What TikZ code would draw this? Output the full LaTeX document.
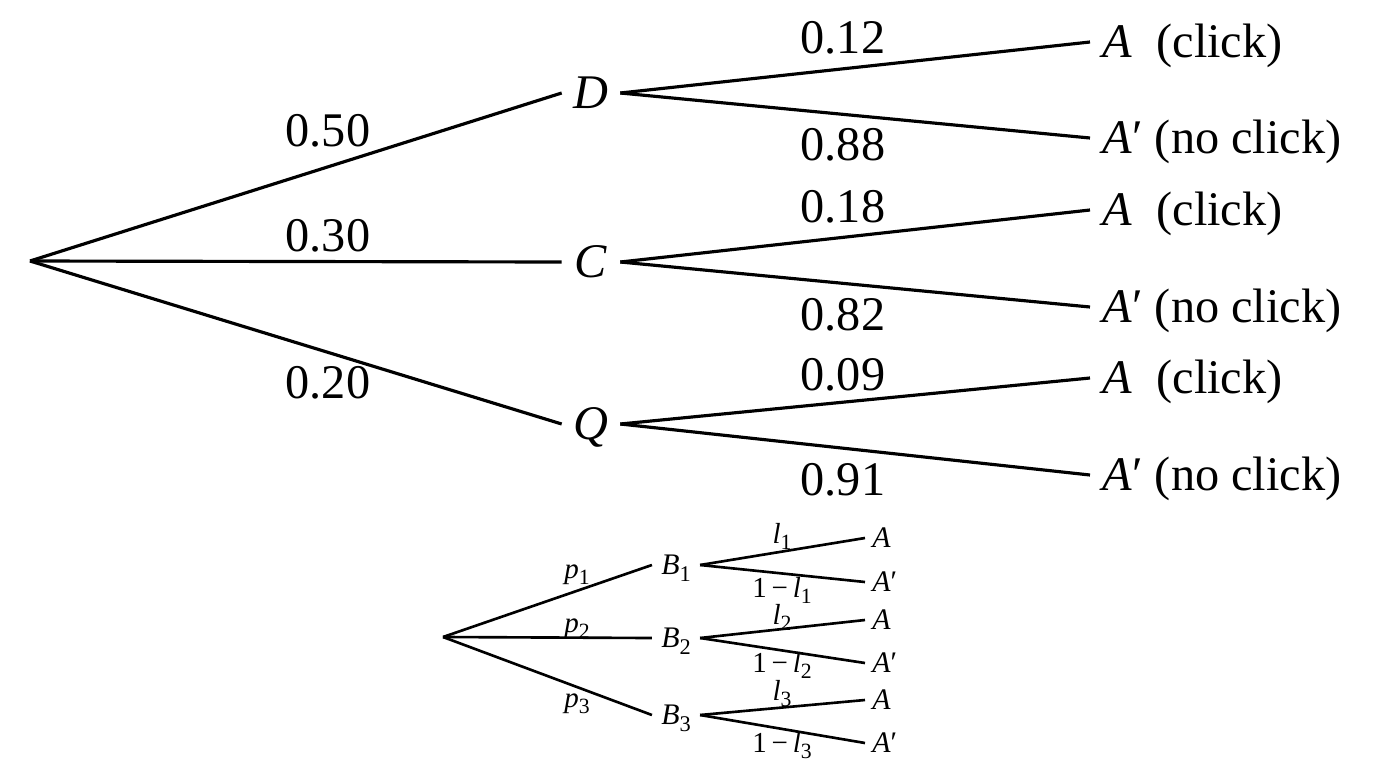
\documentclass[tikz,border=0pt]{standalone}
\usepackage{fontspec}
\setmainfont{Liberation Serif}
\usetikzlibrary{positioning}

\newcommand{\sub}[1]{\raisebox{-0.22em}{\scalebox{0.75}{#1}}}

\begin{document}
\begin{tikzpicture}[x=0.02cm, y=-0.02cm,
  branch/.style={line width=1.8pt},
  twig/.style={line width=1.5pt},
  event/.style={inner sep=0pt, minimum width=33pt, text height=18.2pt, text depth=0pt, font=\fontsize{27.5pt}{32pt}\selectfont},
  outcome/.style={anchor=west, inner xsep=7pt, inner ysep=0pt, text height=18.2pt, text depth=0pt, font=\fontsize{27.5pt}{32pt}\selectfont},
  prob/.style={inner sep=0pt, font=\fontsize{27.5pt}{32pt}\selectfont},
  sevent/.style={inner sep=0pt, minimum width=27pt, text height=10.9pt, text depth=0pt, font=\fontsize{17pt}{20pt}\selectfont},
  soutcome/.style={anchor=west, inner xsep=4pt, inner ysep=0pt, text height=10.9pt, text depth=0pt, font=\fontsize{17pt}{20pt}\selectfont},
  sprob/.style={anchor=base, inner sep=0pt, font=\fontsize{16.5pt}{19pt}\selectfont}
]
\useasboundingbox (0,0) rectangle (1376,768);

% Main tree
\coordinate (root) at (30,261);
\node[event] (dsp) at (591,93) {\textit{D}};
\node[event] (csp) at (591,262) {\textit{C}};
\node[event] (qsp) at (591,424) {\textit{Q}};

\node[outcome] (dclick) at (1090,42) {\textit{A}\hspace{0.5em}(click)};
\node[outcome] (dno) at (1090,138) {\textit{A}′ (no click)};
\node[outcome] (cclick) at (1090,210) {\textit{A}\hspace{0.5em}(click)};
\node[outcome] (cno) at (1090,307) {\textit{A}′ (no click)};
\node[outcome] (qclick) at (1090,378) {\textit{A}\hspace{0.5em}(click)};
\node[outcome] (qno) at (1090,475) {\textit{A}′ (no click)};

% Probabilities
\node[prob] (pd) at (328,131) {0.50};
\node[prob] (pc) at (328,236) {0.30};
\node[prob] (pq) at (328,383) {0.20};
\node[prob] (dyes) at (843,38) {0.12};
\node[prob] (dnot) at (843,145) {0.88};
\node[prob] (cyes) at (843,207) {0.18};
\node[prob] (cnot) at (843,315) {0.82};
\node[prob] (qyes) at (843,375) {0.09};
\node[prob] (qnot) at (843,480) {0.91};

% Branches
\draw[branch] (root) -- (dsp.west);
\draw[branch] (root) -- (csp.west);
\draw[branch] (root) -- (qsp.west);
\draw[branch] (dsp.east) -- (dclick.west);
\draw[branch] (dsp.east) -- (dno.west);
\draw[branch] (csp.east) -- (cclick.west);
\draw[branch] (csp.east) -- (cno.west);
\draw[branch] (qsp.east) -- (qclick.west);
\draw[branch] (qsp.east) -- (qno.west);

% General tree
\coordinate (sroot) at (443,637);
\node[sevent] (b1) at (676,565) {\textit{B}\sub{1}};
\node[sevent] (b2) at (676,638) {\textit{B}\sub{2}};
\node[sevent] (b3) at (676,715) {\textit{B}\sub{3}};

\node[soutcome] (a1) at (865,538) {\textit{A}};
\node[soutcome] (n1) at (865,582) {\textit{A}′};
\node[soutcome] (a2) at (865,620) {\textit{A}};
\node[soutcome] (n2) at (865,663) {\textit{A}′};
\node[soutcome] (a3) at (865,700) {\textit{A}};
\node[soutcome] (n3) at (865,743) {\textit{A}′};

\node[sprob] (p1) at (577,578) {\textit{p}\sub{1}};
\node[sprob] (p2) at (577,632) {\textit{p}\sub{2}};
\node[sprob] (p3) at (577,707) {\textit{p}\sub{3}};
\node[sprob] (l1) at (782,543) {\textit{l}\sub{1}};
\node[sprob] (m1) at (782,597) {1\,−\,\textit{l}\sub{1}};
\node[sprob] (l2) at (782,624) {\textit{l}\sub{2}};
\node[sprob] (m2) at (782,672) {1\,−\,\textit{l}\sub{2}};
\node[sprob] (l3) at (782,700) {\textit{l}\sub{3}};
\node[sprob] (m3) at (782,752) {1\,−\,\textit{l}\sub{3}};

\draw[twig] (sroot) -- (b1.west);
\draw[twig] (sroot) -- (b2.west);
\draw[twig] (sroot) -- (b3.west);
\draw[twig] (b1.east) -- (a1.west);
\draw[twig] (b1.east) -- (n1.west);
\draw[twig] (b2.east) -- (a2.west);
\draw[twig] (b2.east) -- (n2.west);
\draw[twig] (b3.east) -- (a3.west);
\draw[twig] (b3.east) -- (n3.west);

\end{tikzpicture}
\end{document}
